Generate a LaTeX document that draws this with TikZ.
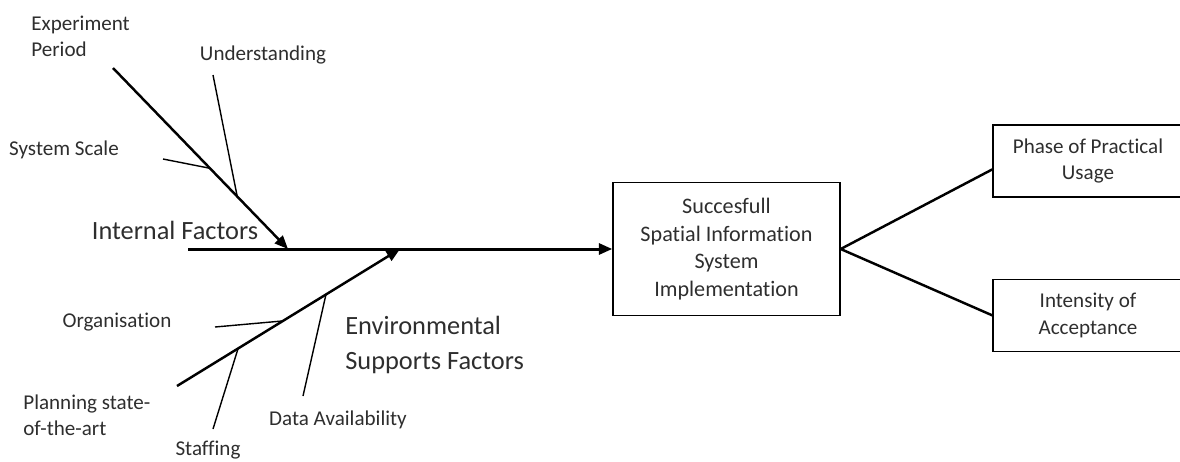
\documentclass[tikz,border=0pt]{standalone}
\usepackage{fontspec}
\setmainfont{Carlito}[Ligatures={NoCommon}]
\usetikzlibrary{arrows.meta}
\usetikzlibrary{positioning}
\tikzset{
    bone/.style={line width=1.4pt, -{Triangle[length=0.27cm,width=0.22cm]}},
    twig/.style={line width=0.8pt},
    link/.style={line width=1.4pt},
    factor/.style={text=black!82, font=\fontsize{12}{15}\selectfont, align=left, inner sep=0pt},
    group/.style={text=black!82, font=\fontsize{15}{20}\selectfont, align=left, inner sep=0pt},
    outcome/.style={draw, line width=0.8pt, text=black!82, font=\fontsize{12}{15}\selectfont, align=center},
}

\begin{document}
\begin{tikzpicture}[x=0.02cm, y=-0.02cm]
    \useasboundingbox (0,0) rectangle (1180,461);

    % Result (effect box)
    \node[outcome, font=\fontsize{12.6}{15.6}\selectfont, minimum width=4.54cm, minimum height=2.66cm] (impl) at (726.5,249) {Succesfull\\Spatial Information\\System\\Implementation};

    % Consequences on the right
    \node[outcome, minimum width=3.8cm, minimum height=1.44cm] (usage) at (1088,161) {Phase of Practical\\Usage};
    \node[outcome, minimum width=3.8cm, minimum height=1.44cm, below=1.62cm of usage] (accept) {Intensity of\\Acceptance};
    \draw[link] (impl.east) -- (usage.185);
    \draw[link] (impl.east) -- (accept.west);

    % Spine
    \coordinate (spineTail) at (188,249);
    \draw[bone, line width=1.7pt] (spineTail) -- (impl.west);

    % Internal factors bone
    \coordinate (inTail) at (113,68);
    \coordinate (inTip) at (288,249);
    \draw[bone] (inTail) -- (inTip);
    \path (inTail) -- (inTip) coordinate[pos=0.554] (scaleJoin) coordinate[pos=0.71] (understJoin);
    \coordinate (scaleEnd) at (163,159);
    \coordinate (understEnd) at (213,75);
    \draw[twig] (scaleEnd) -- (scaleJoin);
    \draw[twig] (understEnd) -- (understJoin);

    % Environmental factors bone
    \coordinate (envTail) at (177,386);
    \coordinate (envTip) at (400,249);
    \draw[bone] (envTail) -- (envTip);
    \path (envTail) -- (envTip) coordinate[pos=0.274] (staffJoin) coordinate[pos=0.475] (organJoin) coordinate[pos=0.668] (dataJoin);
    \coordinate (staffEnd) at (213,429);
    \coordinate (organEnd) at (215,327);
    \coordinate (dataEnd) at (303,396);
    \draw[twig] (staffEnd) -- (staffJoin);
    \draw[twig] (organEnd) -- (organJoin);
    \draw[twig] (dataEnd) -- (dataJoin);

    % Labels
    \node[factor, anchor=west] (period) at (31,36) {Experiment\\Period};
    \node[factor] (underst) at (263,55) {Understanding};
    \node[factor] (scale) at (64,150) {System Scale};
    \node[group] (internal) at (175,230) {Internal Factors};
    \node[factor] (organ) at (117,322) {Organisation};
    \node[factor, anchor=west] (planning) at (23,415) {Planning state-\\of-the-art};
    \node[factor] (staff) at (208,450) {Staffing};
    \node[factor] (data) at (338,420) {Data Availability};
    \node[group, anchor=west] (environ) at (345,345) {Environmental\\Supports Factors};
\end{tikzpicture}
\end{document}
